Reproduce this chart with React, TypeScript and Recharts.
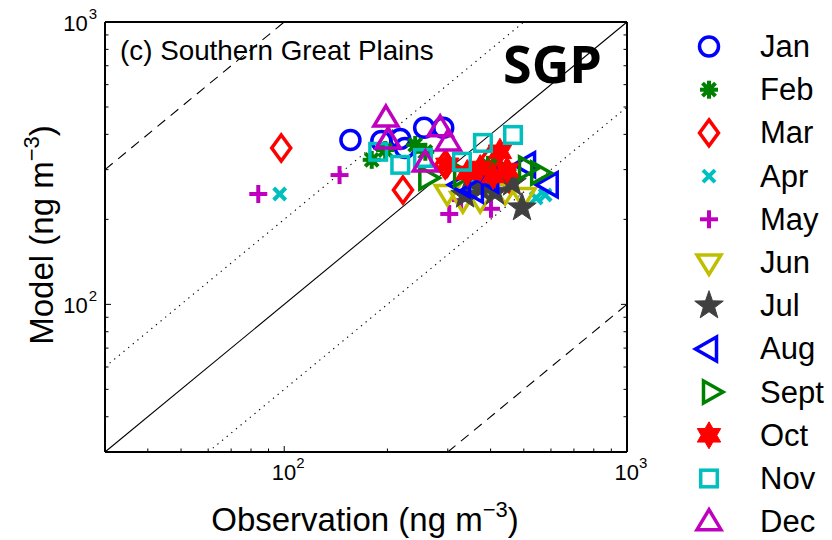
import React from 'react'
import {
  ScatterChart,
  Scatter,
  XAxis,
  YAxis,
  ReferenceLine,
} from 'recharts'

// monthly mean aerosol, observation vs model (ng m^-3)
const MONTHS = ['Jan', 'Feb', 'Mar', 'Apr', 'May', 'Jun', 'Jul', 'Aug', 'Sept', 'Oct', 'Nov', 'Dec']
const MARKERS = ['o', '*', 'd', 'x', '+', 'v', 'p', '<', '>', 'h', 's', '^']
const COLORS = [
  '#0000ff', '#008000', '#ff0000', '#00bfbf', '#bf00bf', '#bfbf00',
  '#404040', '#0000ff', '#008000', '#ff0000', '#00bfbf', '#bf00bf',
]

const JAN_OBS = [156, 192, 218, 256, 291, 225]
const JAN_MOD = [382, 379, 385, 422, 422, 358]
const FEB_OBS = [180, 197, 241, 258, 349, 393]
const FEB_MOD = [325, 352, 367, 347, 294, 312]
const MAR_OBS = [98, 222, 295, 349, 399, 456]
const MAR_MOD = [358, 254, 312, 287, 325, 276]
const APR_OBS = [97, 349, 426, 543, 577]
const APR_MOD = [246, 265, 276, 238, 244]
const MAY_OBS = [84, 145, 303, 328, 401]
const MAY_MOD = [246, 287, 209, 234, 218]
const JUN_OBS = [299, 332, 373, 441, 498]
const JUN_MOD = [248, 234, 234, 250, 242]
const JUL_OBS = [337, 373, 412, 462, 494]
const JUL_MOD = [244, 258, 250, 269, 220]
const AUG_OBS = [330, 360, 399, 511, 595]
const AUG_MOD = [265, 254, 276, 312, 265]
const SEP_OBS = [258, 326, 426, 504, 547]
const SEP_MOD = [280, 287, 299, 304, 292]
const OCT_OBS = [299, 342, 373, 407, 426, 447]
const OCT_MOD = [312, 292, 304, 285, 347, 299]
const NOV_OBS = [188, 218, 254, 330, 380, 465]
const NOV_MOD = [347, 312, 330, 320, 373, 398]
const DEC_OBS = [198, 201, 258, 285, 301]
const DEC_MOD = [457, 382, 317, 422, 376]

const OBS = [JAN_OBS, FEB_OBS, MAR_OBS, APR_OBS, MAY_OBS, JUN_OBS, JUL_OBS, AUG_OBS, SEP_OBS, OCT_OBS, NOV_OBS, DEC_OBS]
const MOD = [JAN_MOD, FEB_MOD, MAR_MOD, APR_MOD, MAY_MOD, JUN_MOD, JUL_MOD, AUG_MOD, SEP_MOD, OCT_MOD, NOV_MOD, DEC_MOD]

const DOMAIN: [number, number] = [30, 1000]
const TICKS = [30, 40, 50, 60, 70, 80, 90, 100, 200, 300, 400, 500, 600, 700, 800, 900, 1000]
const MAJOR = [100, 1000]

// model/obs ratio lines: 1:1 solid, 2:1 & 1:2 dotted, 10:1 & 1:10 dashed
const RATIOS = [1, 2, 0.5, 10, 0.1]
const RATIO_DASH = ['', '1.3 4.7', '1.3 4.7', '10 7', '10 7']

const FONT = "'Liberation Sans', Arial, Helvetica, sans-serif"

function starPoints(cx: number, cy: number, n: number, ro: number, ri: number) {
  const pts: string[] = []
  for (let i = 0; i < n * 2; i++) {
    const r = i % 2 === 0 ? ro : ri
    const a = -Math.PI / 2 + (i * Math.PI) / n
    pts.push(`${cx + r * Math.cos(a)},${cy + r * Math.sin(a)}`)
  }
  return pts.join(' ')
}

function Marker({ kind, color, cx, cy }: { kind: string; color: string; cx: number; cy: number }) {
  const line = { fill: 'none', stroke: color, strokeWidth: 3.5, strokeLinejoin: 'miter' as const }
  const tri = (pts: number[][]) => pts.map(([dx, dy]) => `${cx + dx},${cy + dy}`).join(' ')
  switch (kind) {
    case 'o':
      return <circle cx={cx} cy={cy} r={9.5} {...line} />
    case '*':
      return (
        <g stroke={color} strokeWidth={4}>
          <line x1={cx - 9} y1={cy} x2={cx + 9} y2={cy} />
          <line x1={cx} y1={cy - 9} x2={cx} y2={cy + 9} />
          <line x1={cx - 6.5} y1={cy - 6.5} x2={cx + 6.5} y2={cy + 6.5} />
          <line x1={cx - 6.5} y1={cy + 6.5} x2={cx + 6.5} y2={cy - 6.5} />
          <circle cx={cx} cy={cy} r={5.5} fill={color} stroke="none" />
        </g>
      )
    case 'd':
      return <polygon points={tri([[0, -13], [9.5, 0], [0, 13], [-9.5, 0]])} {...line} />
    case 'x':
      return (
        <g stroke={color} strokeWidth={4}>
          <line x1={cx - 6} y1={cy - 6} x2={cx + 6} y2={cy + 6} />
          <line x1={cx - 6} y1={cy + 6} x2={cx + 6} y2={cy - 6} />
        </g>
      )
    case '+':
      return (
        <g stroke={color} strokeWidth={4}>
          <line x1={cx - 9} y1={cy} x2={cx + 9} y2={cy} />
          <line x1={cx} y1={cy - 9} x2={cx} y2={cy + 9} />
        </g>
      )
    case 'v':
      return <polygon points={tri([[-12, -7.5], [12, -7.5], [0, 12]])} {...line} />
    case '^':
      return <polygon points={tri([[0, -12], [12, 8], [-12, 8]])} {...line} />
    case '<':
      return <polygon points={tri([[-13.5, 0], [7.5, -12], [7.5, 12]])} {...line} />
    case '>':
      return <polygon points={tri([[14, 0], [-5.5, -11], [-5.5, 11]])} {...line} />
    case 's':
      return <rect x={cx - 8.3} y={cy - 8.3} width={16.6} height={16.6} {...line} />
    case 'p':
      return <polygon points={starPoints(cx, cy, 5, 15, 6)} fill={color} stroke={color} strokeWidth={1} />
    case 'h':
      return <polygon points={starPoints(cx, cy, 6, 13.5, 7.8)} fill={color} stroke={color} strokeWidth={1} />
    default:
      return null
  }
}

const sup = (v: number) => String(Math.round(Math.log10(v)))

function BottomTick(p: any) {
  const v = p.payload.value
  const major = MAJOR.includes(v)
  return (
    <g>
      <line x1={p.x} x2={p.x} y1={p.y} y2={p.y - (major ? 6 : 3.5)} stroke="#000" />
      {major && (
        <text x={p.x + 4} y={p.y + 28} textAnchor="middle" fontSize={22} fontFamily={FONT} fill="#000">
          10<tspan dy={-12} fontSize={15}>{sup(v)}</tspan>
        </text>
      )}
    </g>
  )
}

function TopTick(p: any) {
  const major = MAJOR.includes(p.payload.value)
  return <line x1={p.x} x2={p.x} y1={p.y} y2={p.y + (major ? 6 : 3.5)} stroke="#000" />
}

function LeftTick(p: any) {
  const v = p.payload.value
  const major = MAJOR.includes(v)
  return (
    <g>
      <line x1={p.x} x2={p.x + (major ? 6 : 3.5)} y1={p.y} y2={p.y} stroke="#000" />
      {major && (
        <text x={p.x - 8} y={p.y + 9} textAnchor="end" fontSize={22} fontFamily={FONT} fill="#000">
          10<tspan dx={1} dy={-12} fontSize={15}>{sup(v)}</tspan>
        </text>
      )}
    </g>
  )
}

function RightTick(p: any) {
  const major = MAJOR.includes(p.payload.value)
  return <line x1={p.x} x2={p.x - (major ? 6 : 3.5)} y1={p.y} y2={p.y} stroke="#000" />
}

export default function App() {
  const series = MONTHS.map((m, i) => ({
    name: m,
    kind: MARKERS[i],
    color: COLORS[i],
    data: OBS[i].map((x, j) => ({ x, y: MOD[i][j] })),
  }))

  const segs = RATIOS.map((r) => {
    const x0 = Math.max(DOMAIN[0], DOMAIN[0] / r)
    const x1 = Math.min(DOMAIN[1], DOMAIN[1] / r)
    return [
      { x: x0, y: x0 * r },
      { x: x1, y: x1 * r },
    ]
  })

  const axisLine = { stroke: '#000', strokeWidth: 2 }
  const common = {
    type: 'number' as const,
    scale: 'log' as const,
    domain: DOMAIN,
    allowDataOverflow: true,
    ticks: TICKS,
    interval: 0,
    tickSize: 0,
    tickMargin: 0,
    tickLine: false,
    axisLine,
  }

  return (
    <div style={{ position: 'absolute', left: 0, top: 0, width: 832, height: 540, background: '#fff' }}>
      <ScatterChart width={832} height={540} margin={{ top: 21, left: 104, right: 204, bottom: 87 }}>
        <XAxis xAxisId="b" dataKey="x" height={1} tick={BottomTick} {...common} />
        <XAxis xAxisId="t" orientation="top" height={1} tick={TopTick} {...common} />
        <YAxis yAxisId="l" dataKey="y" width={1} tick={LeftTick} {...common} />
        <YAxis yAxisId="r" orientation="right" width={1} tick={RightTick} {...common} />
        {series.map((s) => (
          <Scatter
            key={s.name}
            name={s.name}
            data={s.data}
            xAxisId="b"
            yAxisId="l"
            isAnimationActive={false}
            shape={(p: any) => <Marker kind={s.kind} color={s.color} cx={p.cx} cy={p.cy} />}
          />
        ))}
        {segs.map((seg, i) => (
          <ReferenceLine
            key={i}
            xAxisId="b"
            yAxisId="l"
            segment={seg}
            stroke="#000"
            strokeWidth={1.1}
            strokeDasharray={RATIO_DASH[i] || undefined}
          />
        ))}
      </ScatterChart>

      <svg
        width={832}
        height={540}
        style={{ position: 'absolute', left: 0, top: 0, pointerEvents: 'none' }}
        fontFamily={FONT}
      >
        <text x={120} y={60} fontSize={27.8}>(c) Southern Great Plains</text>
        <text x={503} y={83} fontSize={52} fontWeight={700} fontFamily="'Open Sans', Arial, sans-serif">SGP</text>
        <text x={365} y={531} textAnchor="middle" fontSize={33}>
          Observation (ng m<tspan dy={-14} fontSize={22}>−3</tspan><tspan dy={14}>)</tspan>
        </text>
        <text transform="translate(53,235) rotate(-90)" textAnchor="middle" fontSize={33}>
          Model (ng m<tspan dy={-14} fontSize={22}>−3</tspan><tspan dy={14}>)</tspan>
        </text>
        {series.map((s, i) => {
          const cy = 46.5 + i * 43.2
          return (
            <g key={s.name}>
              <Marker kind={s.kind} color={s.color} cx={709} cy={cy} />
              <text x={760} y={cy + 10.5} fontSize={31}>{s.name}</text>
            </g>
          )
        })}
      </svg>
    </div>
  )
}
